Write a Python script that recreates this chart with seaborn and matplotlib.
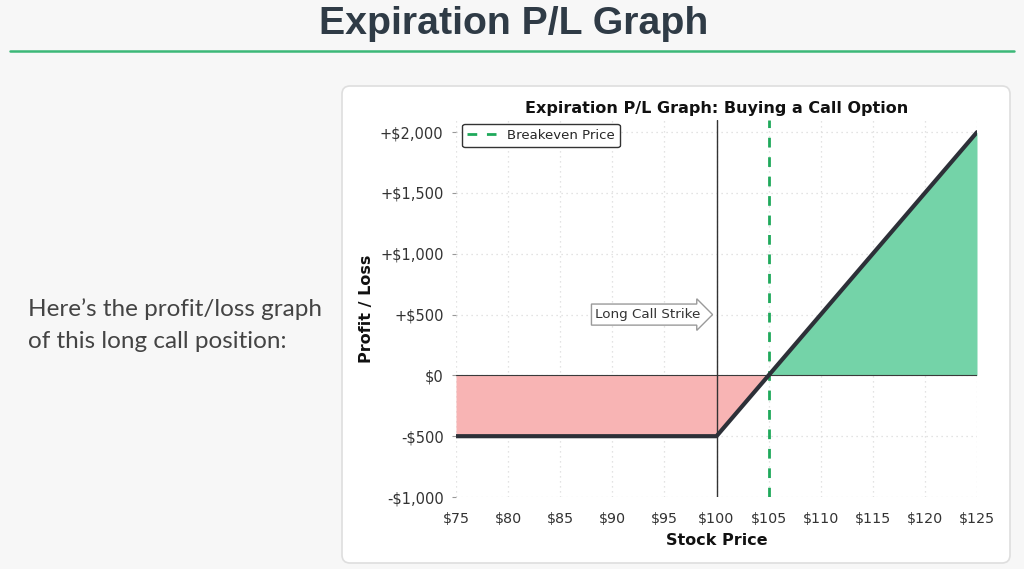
import numpy as np
import pandas as pd
import matplotlib
matplotlib.use("Agg")
import matplotlib.pyplot as plt
import seaborn as sns
from matplotlib.patches import FancyBboxPatch
from matplotlib.lines import Line2D
from matplotlib.ticker import FuncFormatter, FixedLocator

# ---- data ----
stock_prices = [75, 100, 105, 125]
profit_loss = [-500, -500, 0, 2000]
strike_price = 100
breakeven_price = 105
annotation_level = 500
x_ticks = [75, 80, 85, 90, 95, 100, 105, 110, 115, 120, 125]
y_ticks = [-1000, -500, 0, 500, 1000, 1500, 2000]

slide_title = "Expiration P/L Graph"
chart_title = "Expiration P/L Graph: Buying a Call Option"
side_text = "Here\u2019s the profit/loss graph\nof this long call position:"
strike_label = "Long Call Strike"
breakeven_label = "Breakeven Price"

sns.set_theme(style="whitegrid")
plt.rcParams['font.family'] = ['DejaVu Sans']

W, H = 1024, 569
fig = plt.figure(figsize=(W / 100, H / 100), dpi=100, facecolor="#f7f7f7")

# slide title and rule
fig.text(514 / W, 1 - 24 / H, slide_title, ha="center", va="center",
         fontsize=28.3, fontweight="bold", color="#2f3b46",
         family=["Liberation Sans", "DejaVu Sans"])
fig.add_artist(Line2D([10, 1014], [H - 51, H - 51], transform=None,
                      color="#3cb878", linewidth=1.8))

# side text
fig.text(28 / W, 1 - 325 / H, side_text, ha="left", va="center",
         fontsize=17.5, color="#444444", linespacing=1.6,
         family=["Lato", "DejaVu Sans"])

# chart card
card = FancyBboxPatch((342, 6), 668, 477, boxstyle="round,pad=0,rounding_size=8",
                      transform=None, facecolor="white", edgecolor="#dedede",
                      linewidth=1.2, zorder=0)
fig.add_artist(card)

ax = fig.add_axes([456 / W, (H - 497) / H, 521 / W, 377 / H])
ax.set_facecolor("white")

df = pd.DataFrame({"Stock Price": stock_prices, "P/L": profit_loss})
pl = np.array(profit_loss)

ax.fill_between(stock_prices, profit_loss, 0, where=pl <= 0, interpolate=True,
                color="#f8b4b4", linewidth=0, zorder=1)
ax.fill_between(stock_prices, profit_loss, 0, where=pl >= 0, interpolate=True,
                color="#74d3a8", linewidth=0, zorder=1)
ax.axhline(0, color="#3a3a3a", linewidth=0.8, zorder=2)
ax.axvline(strike_price, color="#333333", linewidth=1.0, zorder=3)
sns.lineplot(data=df, x="Stock Price", y="P/L", ax=ax, color="#2d3038",
             linewidth=3, zorder=5)
ax.axvline(breakeven_price, color="#1fa95b", linewidth=2, linestyle=(0, (3.5, 3.5)),
           label=breakeven_label, zorder=4)

ax.set_xlim(75, 125)
ax.set_ylim(-1000, 2100)
ax.xaxis.set_major_locator(FixedLocator(x_ticks))
ax.yaxis.set_major_locator(FixedLocator(y_ticks))
ax.xaxis.set_major_formatter(FuncFormatter(lambda v, p: f"${v:,.0f}"))

def yfmt(v, p):
    if v > 0:
        return f"+${v:,.0f}"
    if v < 0:
        return f"-${abs(v):,.0f}"
    return "$0"
ax.yaxis.set_major_formatter(FuncFormatter(yfmt))

ax.grid(True, color="#dadada", linestyle=(0, (1, 3)), linewidth=0.9)
for s in ax.spines.values():
    s.set_visible(False)
ax.tick_params(axis="y", left=True, length=3, width=0.8, color="#999999",
               labelsize=10.5, labelcolor="#333333", pad=6)
ax.tick_params(axis="x", bottom=False, labelsize=10.3, labelcolor="#333333", pad=5)

ax.set_xlabel("Stock Price", fontsize=11.5, fontweight="bold", color="#111111", labelpad=5)
ax.set_ylabel("Profit / Loss", fontsize=11.5, fontweight="bold", color="#111111", labelpad=4)
ax.set_title(chart_title, fontsize=11.5, fontweight="bold", color="#111111", pad=5)

ax.text(strike_price - 1.5, annotation_level, strike_label, ha="right", va="center",
        fontsize=9.7, color="#333333", zorder=6,
        bbox=dict(boxstyle="rarrow,pad=0.3", facecolor="white", edgecolor="#9a9a9a",
                  linewidth=1))

leg = ax.legend(loc="upper left", bbox_to_anchor=(0.0115, 0.99), borderaxespad=0,
                fontsize=9.5, frameon=True, fancybox=True, edgecolor="#333333",
                framealpha=1, handlelength=2.2)
leg.get_frame().set_linewidth(1.0)

fig.savefig("out.png", dpi=100, facecolor=fig.get_facecolor())
